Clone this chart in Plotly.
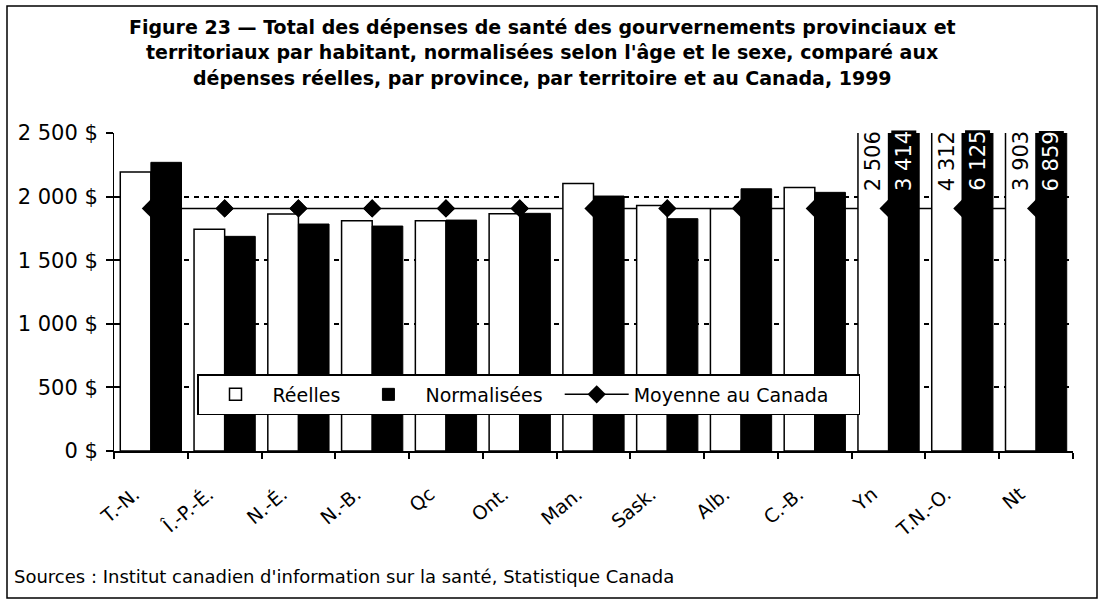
import plotly.graph_objects as go

provinces = ["T.-N.", "Î.-P.-É.", "N.-É.", "N.-B.", "Qc", "Ont.", "Man.", "Sask.",
             "Alb.", "C.-B.", "Yn", "T.N.-O.", "Nt"]
reelles = [2195, 1743, 1863, 1811, 1811, 1866, 2104, 1931, 1905, 2073, 2506, 4312, 3903]
normalisees = [2270, 1688, 1785, 1769, 1816, 1869, 2005, 1827, 2062, 2034, 3414, 6125, 6859]
moyenne_canada = 1908
y_ticks = [0, 500, 1000, 1500, 2000, 2500]

title_lines = [
    "Figure 23 — Total des dépenses de santé des gourvernements provinciaux et",
    "territoriaux par habitant, normalisées selon l'âge et le sexe, comparé aux",
    "dépenses réelles, par province, par territoire et au Canada, 1999",
]
source_text = "Sources : Institut canadien d'information sur la santé, Statistique Canada"

FONT = "DejaVu Sans"
NBSP = "\u00a0"
W, H = 1100, 600
ML, MR, MT, MB = 114, 27, 133, 149
y_max = y_ticks[-1]
bw = 0.415  # bar width, category units
n = len(provinces)


def px_x(px):
    return (px - ML) / (W - ML - MR)


def px_y(py):
    return (H - MB - py) / (H - MT - MB)


def fmt(v):
    return f"{v:,}".replace(",", " ")


moy = [moyenne_canada] * n

fig = go.Figure()

# line sits underneath all bars
fig.add_trace(go.Scatter(
    x=provinces, y=moy, mode="lines+markers", name="Moyenne au Canada" + NBSP * 4,
    line=dict(color="black", width=1.5),
    marker=dict(symbol="diamond", size=14, color="black"),
    legendrank=3, yaxis="y",
))
fig.add_trace(go.Bar(
    x=provinces, y=reelles, name="Réelles" + NBSP, offset=-bw, width=bw,
    marker=dict(color="white", line=dict(color="black", width=1.5)),
    legendrank=1, yaxis="y2",
))
# diamonds above the white bars, below the black ones
fig.add_trace(go.Scatter(
    x=provinces, y=moy, mode="markers", showlegend=False,
    marker=dict(symbol="diamond", size=14, color="black"), yaxis="y2",
))
fig.add_trace(go.Bar(
    x=provinces, y=normalisees, name="Normalisées" + NBSP * 2, offset=0, width=bw,
    marker=dict(color="black", line=dict(color="black", width=1)),
    legendrank=2, yaxis="y3",
))

# values of bars cut off at the top of the axis
for i, p in enumerate(provinces):
    for vals, shift, fg, bg in ((reelles, -bw / 2, "black", "white"),
                                (normalisees, bw / 2, "white", "black")):
        if vals[i] > y_max:
            fig.add_annotation(
                x=i + shift, y=y_max, xref="x", yref="y", text=fmt(vals[i]),
                textangle=-90, showarrow=False, yanchor="top", xanchor="center",
                font=dict(family=FONT, size=21, color=fg), bgcolor=bg,
                borderpad=0, yshift=3,
            )

for k, line in enumerate(title_lines):
    fig.add_annotation(
        x=px_x(542), y=px_y([27, 52, 78][k]), xref="paper", yref="paper",
        text="<b>" + line + "</b>", showarrow=False, xanchor="center", yanchor="middle",
        font=dict(family=FONT, size=19, color="black"),
    )

fig.add_annotation(
    x=px_x(12), y=px_y(576), xref="paper", yref="paper", text=source_text,
    showarrow=False, xanchor="left", yanchor="middle",
    font=dict(family=FONT, size=18, color="black"),
)

fig.add_shape(
    type="rect", xref="paper", yref="paper",
    x0=px_x(7), x1=px_x(1097), y0=px_y(598), y1=px_y(6),
    line=dict(color="black", width=1.5), fillcolor="rgba(0,0,0,0)",
)

y_range = [0, y_max * 1.0003]
axis_y_common = dict(range=y_range, tickvals=y_ticks, zeroline=False, fixedrange=True)

fig.update_layout(
    width=W, height=H,
    margin=dict(l=ML, r=MR, t=MT, b=MB, autoexpand=False),
    paper_bgcolor="white", plot_bgcolor="white",
    font=dict(family=FONT, color="black"),
    showlegend=True,
    legend=dict(
        orientation="h", x=px_x(197), y=px_y(374), xanchor="left", yanchor="top",
        bgcolor="white", bordercolor="black", borderwidth=1.5, itemwidth=64,
        font=dict(family=FONT, size=19, color="black"),
    ),
    xaxis=dict(
        type="category", categoryorder="array", categoryarray=provinces,
        range=[-0.5, n - 0.5],
        showline=True, linecolor="black", linewidth=1.5,
        ticks="outside", tickson="boundaries", ticklen=6, tickcolor="black", tickwidth=1.5,
        tickangle=-40, tickfont=dict(family=FONT, size=19, color="black"),
        ticklabelstandoff=23, ticklabelshift=-16, showgrid=False, zeroline=False,
    ),
    # second x axis only for the inner half of the crossing tick marks
    xaxis2=dict(
        overlaying="x", anchor="y", type="linear", range=[-0.5, n - 0.5],
        tickvals=[i - 0.5 for i in range(n + 1)], ticks="inside", ticklen=5,
        tickcolor="black", tickwidth=1.5, showticklabels=False, showline=False,
        showgrid=False, zeroline=False, fixedrange=True,
    ),
    yaxis=dict(
        **axis_y_common,
        ticktext=[fmt(v) + " $" for v in y_ticks],
        showline=True, linecolor="black", linewidth=1,
        ticks="outside", ticklen=7, tickcolor="black", tickwidth=1.5,
        tickfont=dict(family=FONT, size=21, color="black"),
        ticklabelstandoff=4,
        showgrid=True, gridcolor="black", gridwidth=2, griddash="5px,5px",
    ),
    yaxis2=dict(**axis_y_common, overlaying="y", showticklabels=False, showgrid=False,
                ticks="inside", ticklen=6, tickcolor="black", tickwidth=1.5, showline=False),
    yaxis3=dict(**axis_y_common, overlaying="y", showticklabels=False, showgrid=False,
                ticks="", showline=False),
    barmode="overlay",
)

fig.write_html("out.html", config={"displayModeBar": False},
               post_script="document.body.style.margin='0';")
